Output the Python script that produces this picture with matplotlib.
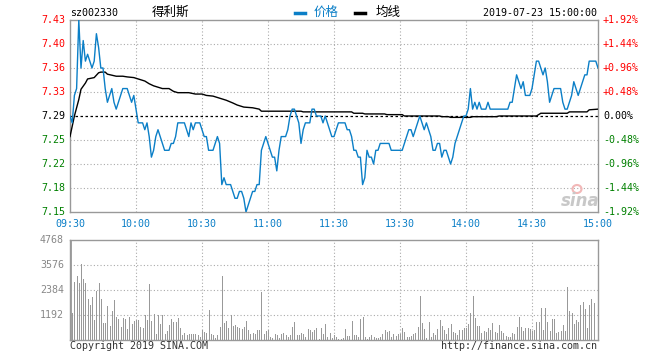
import matplotlib
matplotlib.use('Agg')
import matplotlib.pyplot as plt
import matplotlib.transforms as mtransforms
from matplotlib.lines import Line2D
from matplotlib.patches import Ellipse

plt.rcParams['font.family'] = ['DejaVu Sans Mono']

# ---- data ----
code = 'sz002330'
name = '得利斯'
stamp = '2019-07-23 15:00:00'
prev_close = 7.29

# one price per minute, 09:30 .. 11:30 / 13:00 .. 15:00 (241 points)
price = [
    7.29, 7.28, 7.32, 7.33, 7.43, 7.36, 7.40, 7.37, 7.38, 7.37,
    7.36, 7.37, 7.41, 7.39, 7.36, 7.36, 7.33, 7.31, 7.32, 7.33,
    7.31, 7.30, 7.31, 7.32, 7.33, 7.33, 7.33, 7.32, 7.31, 7.32,
    7.30, 7.28, 7.28, 7.28, 7.27, 7.28, 7.26, 7.23, 7.24, 7.26,
    7.27, 7.26, 7.25, 7.24, 7.24, 7.24, 7.25, 7.25, 7.26, 7.28,
    7.28, 7.28, 7.28, 7.27, 7.26, 7.28, 7.27, 7.28, 7.28, 7.28,
    7.27, 7.26, 7.26, 7.24, 7.24, 7.24, 7.25, 7.26, 7.25, 7.19,
    7.20, 7.19, 7.19, 7.19, 7.18, 7.17, 7.17, 7.18, 7.18, 7.17,
    7.15, 7.16, 7.17, 7.18, 7.18, 7.19, 7.19, 7.24, 7.25, 7.26,
    7.25, 7.24, 7.23, 7.23, 7.21, 7.24, 7.26, 7.26, 7.26, 7.27,
    7.29, 7.30, 7.30, 7.29, 7.28, 7.25, 7.27, 7.28, 7.28, 7.28,
    7.30, 7.30, 7.29, 7.29, 7.29, 7.28, 7.29, 7.28, 7.27, 7.26,
    7.26, 7.27, 7.28, 7.28, 7.28, 7.28, 7.27, 7.27, 7.26, 7.24,
    7.24, 7.23, 7.23, 7.19, 7.20, 7.24, 7.23, 7.23, 7.22, 7.24,
    7.24, 7.25, 7.25, 7.25, 7.25, 7.25, 7.24, 7.24, 7.24, 7.24,
    7.24, 7.24, 7.25, 7.26, 7.27, 7.27, 7.26, 7.27, 7.28, 7.29,
    7.28, 7.27, 7.28, 7.27, 7.26, 7.24, 7.24, 7.25, 7.25, 7.23,
    7.24, 7.24, 7.23, 7.22, 7.23, 7.25, 7.26, 7.27, 7.28, 7.29,
    7.29, 7.30, 7.33, 7.30, 7.31, 7.30, 7.31, 7.30, 7.30, 7.30,
    7.31, 7.30, 7.30, 7.30, 7.30, 7.30, 7.30, 7.30, 7.30, 7.30,
    7.31, 7.31, 7.33, 7.35, 7.34, 7.33, 7.34, 7.32, 7.32, 7.32,
    7.33, 7.35, 7.37, 7.37, 7.36, 7.35, 7.36, 7.34, 7.31, 7.32,
    7.33, 7.33, 7.33, 7.33, 7.31, 7.30, 7.30, 7.31, 7.32, 7.34,
    7.33, 7.32, 7.33, 7.34, 7.35, 7.35, 7.37, 7.37, 7.37, 7.37,
    7.36,
]

# average price line, read at its turning points
avg_min = [0, 2, 4, 5, 7, 8, 11, 13, 14, 16,
           17, 21, 24, 26, 29, 32, 34, 36, 38, 40,
           42, 45, 47, 49, 54, 57, 60, 62, 65, 69,
           71, 74, 76, 79, 83, 86, 87, 105, 106, 128,
           129, 133, 134, 143, 144, 151, 152, 168, 169, 172,
           173, 182, 183, 194, 195, 212, 213, 214, 226, 227,
           235, 236, 240]
avg_val = [7.260, 7.290, 7.314, 7.329, 7.338, 7.344, 7.346, 7.353, 7.354, 7.354,
           7.351, 7.348, 7.348, 7.347, 7.346, 7.343, 7.341, 7.337, 7.334, 7.332,
           7.330, 7.330, 7.326, 7.324, 7.324, 7.322, 7.322, 7.320, 7.319, 7.315,
           7.313, 7.309, 7.306, 7.303, 7.302, 7.300, 7.297, 7.297, 7.296, 7.296,
           7.294, 7.294, 7.293, 7.293, 7.292, 7.292, 7.290, 7.290, 7.289, 7.289,
           7.288, 7.288, 7.289, 7.289, 7.290, 7.290, 7.292, 7.294, 7.294, 7.296,
           7.296, 7.299, 7.300]

# volume per minute (lots)
volume = [
    4768,
    1287, 2765, 3051, 2717, 3623, 2908, 2717, 1954, 1668, 2050,
    953, 2352, 2717, 1954, 810, 810, 1621, 667, 1382, 1907,
    1096, 1001, 620, 1049, 1001, 524, 1096, 763, 906, 953,
    953, 620, 572, 1192, 953, 2670, 906, 1239, 286, 1192,
    763, 1192, 286, 429, 715, 1001, 858, 858, 1049, 572,
    238, 334, 238, 286, 286, 286, 286, 238, 143, 477,
    381, 334, 1430, 286, 238, 95, 238, 620, 3051, 810,
    906, 572, 1176, 667, 715, 620, 572, 524, 620, 906,
    477, 286, 334, 286, 477, 477, 2288, 286, 429, 477,
    143, 95, 286, 238, 95, 286, 334, 238, 143, 238,
    620, 858, 238, 238, 334, 286, 143, 524, 477, 381,
    477, 572, 48, 572, 286, 763, 143, 334, 95,
    238, 143, 48, 48, 95, 524, 191, 191, 906, 238,
    238, 143, 1001, 1096, 143, 48, 143, 238, 143, 95,
    95, 143, 286, 477, 381, 429, 143, 286, 191, 286,
    286, 572, 381, 143, 143, 191, 286, 334, 620, 2097,
    810, 524, 95, 858, 143, 334, 238, 524, 953, 667,
    477, 286, 572, 763, 381, 334, 238, 477, 477, 572,
    572, 763, 1287, 2097, 1049, 667, 667, 334, 429, 381,
    572, 477, 810, 381, 334, 715, 429, 334, 191, 143,
    143, 334, 286, 620, 1096, 620, 429, 572, 572, 524,
    429, 477, 858, 858, 1525, 477, 1525, 858, 429, 1001,
    1001, 334, 381, 429, 715, 429, 2527, 1382, 1287, 763,
    953, 858, 1668, 1811, 1478, 572, 1668, 1954, 1764,
    0, 0,
]

pct_levels = [1.92, 1.44, 0.96, 0.48, 0.0, -0.48, -0.96, -1.44, -1.92]
price_labels = ['7.43', '7.40', '7.36', '7.33', '7.29', '7.25', '7.22', '7.18', '7.15']
pct_labels = ['+1.92%', '+1.44%', '+0.96%', '+0.48%', '0.00%',
              '-0.48%', '-0.96%', '-1.44%', '-1.92%']
vol_ticks = [0, 1192, 2384, 3576, 4768]
vol_labels = ['', '1192', '2384', '3576', '4768']
time_pos = [0, 30, 60, 90, 120, 150, 180, 210, 240]
time_labels = ['09:30', '10:00', '10:30', '11:00', '11:30',
               '13:30', '14:00', '14:30', '15:00']

# ---- drawing ----
W, H = 660, 360
blue = '#0b7fc7'
red = '#ff0000'
green = '#008000'
grid_c = '#aaaaaa'
frame_c = '#999999'
fs = 7.2


def box(l, t, r, b):
    return [l / W, 1 - b / H, (r - l) / W, (b - t) / H]


fig = plt.figure(figsize=(6.6, 3.6), dpi=100)
ax = fig.add_axes(box(70, 20, 598, 212))
axv = fig.add_axes(box(70, 240, 598, 340))

levels = [prev_close * (1 + p / 100) for p in pct_levels]

ax.set_xlim(0, 240)
ax.set_ylim(levels[-1], levels[0])
for lv, p in zip(levels[1:-1], pct_levels[1:-1]):
    if p == 0:
        continue
    ax.axhline(lv, color=grid_c, lw=0.8, ls=(0, (1, 2)), zorder=1)
for x in time_pos[1:-1]:
    ax.axvline(x, color=grid_c, lw=0.8, ls=(0, (1, 2)), zorder=1)
ax.axhline(prev_close, color='black', lw=0.9, ls=(0, (2, 2)), zorder=2)

ax.plot(range(len(price)), price, color=blue, lw=1.0, zorder=4)
ax.plot(avg_min, avg_val, color='black', lw=1.0, zorder=3)

trans = mtransforms.blended_transform_factory(ax.transAxes, ax.transData)
for lv, p, pl, cl in zip(levels, pct_levels, price_labels, pct_labels):
    col = red if p > 0 else (green if p < 0 else 'black')
    ax.text(-0.0095, lv, pl, transform=trans, ha='right', va='center',
            color=col, fontsize=fs)
    ax.text(1.0095, lv, cl, transform=trans, ha='left', va='center',
            color=col, fontsize=fs)

for x, lbl in zip(time_pos, time_labels):
    ax.text(x, -0.0625, lbl, transform=mtransforms.blended_transform_factory(
        ax.transData, ax.transAxes), ha='center', va='center', color=blue,
        fontsize=fs)

# volume panel
axv.set_xlim(0, 240)
axv.set_ylim(0, vol_ticks[-1])
for v in vol_ticks[1:-1]:
    axv.axhline(v, color=grid_c, lw=0.8, ls=(0, (1, 2)), zorder=1)
for x in time_pos[1:-1]:
    axv.axvline(x, color=grid_c, lw=0.8, ls=(0, (1, 2)), zorder=1)
axv.vlines(range(len(volume)), 0, volume, color='#999999', lw=0.55,
           antialiased=False, zorder=3)
axv.vlines([0], 0, volume[:1], color='#999999', lw=2.0, zorder=3)
transv = mtransforms.blended_transform_factory(axv.transAxes, axv.transData)
for v, lbl in zip(vol_ticks, vol_labels):
    axv.text(-0.0115, v, lbl, transform=transv, ha='right', va='center',
             color='#888888', fontsize=fs)

for a in (ax, axv):
    a.set_xticks([])
    a.set_yticks([])
    for s in a.spines.values():
        s.set_color(frame_c)
        s.set_linewidth(1.0)

# header
ytop = 1 - 13 / H
fig.text(70 / W, ytop, code, ha='left', va='center', fontsize=fs, color='black')
fig.text(170 / W, 1 - 12 / H, name, ha='center', va='center', fontsize=9,
         family=['Noto Sans CJK SC', 'DejaVu Sans'], color='black')
fig.add_artist(Line2D([295 / W, 305 / W], [ytop, ytop], color=blue, lw=2.5,
                      transform=fig.transFigure))
fig.text(314 / W, 1 - 12 / H, '价格', ha='left', va='center', fontsize=9,
         family=['Noto Sans CJK SC', 'DejaVu Sans'], color=blue)
fig.add_artist(Line2D([355 / W, 365 / W], [ytop, ytop], color='black', lw=2.5,
                      transform=fig.transFigure))
fig.text(376 / W, 1 - 12 / H, '均线', ha='left', va='center', fontsize=9,
         family=['Noto Sans CJK SC', 'DejaVu Sans'], color='black')
fig.text(597 / W, ytop, stamp, ha='right', va='center', fontsize=fs, color='black')

# watermark
fig.add_artist(Ellipse((577 / W, 1 - 189 / H), 9 / W, 8 / H,
                       transform=fig.transFigure, facecolor='none',
                       edgecolor='#f2b8b8', lw=1.5))
fig.text(580 / W, 1 - 201 / H, 'sina', ha='center', va='center', fontsize=12,
         fontstyle='italic', fontweight='bold', color='#c8c8c8',
         family='DejaVu Sans')

# footer
fig.text(70 / W, 1 - 346 / H, 'Copyright 2019 SINA.COM', ha='left',
         va='center', fontsize=fs, color='#333333')
fig.text(597 / W, 1 - 346 / H, 'http://finance.sina.com.cn', ha='right',
         va='center', fontsize=fs, color='#333333')

fig.savefig('out.png', dpi=100)
